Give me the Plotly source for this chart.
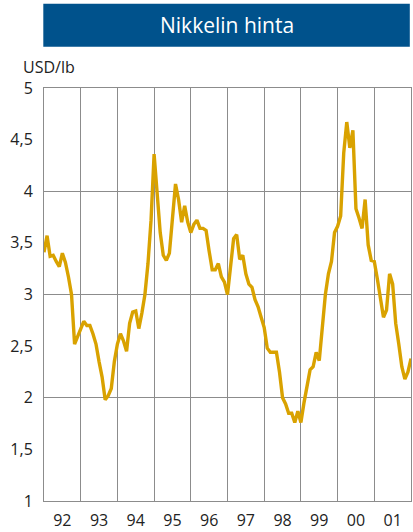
import plotly.graph_objects as go

# Monthly nickel price, USD/lb, Jan 1992 .. Jan 2002 (index 0..120)
prices = [
    3.41, 3.57, 3.37, 3.38, 3.32, 3.27, 3.40, 3.31, 3.17, 3.00, 2.52, 2.60,   # 1992
    2.68, 2.74, 2.70, 2.70, 2.62, 2.52, 2.35, 2.20, 1.98, 2.02, 2.09, 2.35,   # 1993
    2.52, 2.62, 2.55, 2.45, 2.72, 2.83, 2.84, 2.67, 2.82, 3.00, 3.30, 3.72,   # 1994
    4.36, 4.00, 3.60, 3.38, 3.33, 3.40, 3.78, 4.07, 3.92, 3.70, 3.86, 3.70,   # 1995
    3.60, 3.68, 3.72, 3.64, 3.64, 3.62, 3.42, 3.24, 3.24, 3.30, 3.17, 3.12,   # 1996
    3.00, 3.30, 3.54, 3.58, 3.34, 3.38, 3.20, 3.10, 3.07, 2.95, 2.88, 2.78,   # 1997
    2.68, 2.48, 2.44, 2.44, 2.44, 2.25, 2.00, 1.94, 1.85, 1.85, 1.76, 1.87,   # 1998
    1.76, 1.95, 2.12, 2.27, 2.30, 2.44, 2.36, 2.65, 3.00, 3.20, 3.32, 3.60,   # 1999
    3.66, 3.76, 4.37, 4.67, 4.42, 4.59, 3.83, 3.74, 3.64, 3.92, 3.48, 3.33,   # 2000
    3.32, 3.15, 2.97, 2.78, 2.85, 3.20, 3.10, 2.72, 2.52, 2.30, 2.18, 2.25,   # 2001
    2.38,
]
x_years = [1992 + i / 12 for i in range(len(prices))]

year_labels = ["92", "93", "94", "95", "96", "97", "98", "99", "00", "01"]
year_label_pos = [1992.5 + i for i in range(len(year_labels))]

y_ticks = [1, 1.5, 2, 2.5, 3, 3.5, 4, 4.5, 5]
y_tick_text = ["1", "1,5", "2", "2,5", "3", "3,5", "4", "4,5", "5"]

title_text = "Nikkelin hinta"
unit_text = "USD/lb"

FONT = "Open Sans, Noto Sans, DejaVu Sans, sans-serif"
GRID = "#8c8c8c"
TXT = "#222222"
W, H = 413, 532
ML, MR, MT, MB = 43.5, 1, 87.5, 26.5

fig = go.Figure()
fig.add_trace(go.Scatter(
    x=x_years, y=prices, mode="lines",
    line=dict(color="#d9a200", width=3.4),
    hoverinfo="skip", showlegend=False,
))

plot_h = H - MT - MB
plot_w = W - ML - MR
def px_to_paper_y(py):
    return (H - MB - py) / plot_h
def px_to_paper_x(px):
    return (px - ML) / plot_w

fig.update_layout(
    width=W, height=H,
    margin=dict(l=ML, r=MR, t=MT, b=MB),
    paper_bgcolor="white", plot_bgcolor="white",
    font=dict(family=FONT, size=16, color=TXT),
    showlegend=False,
    xaxis=dict(
        range=[1992, 2002],
        tickmode="array", tickvals=year_label_pos, ticktext=year_labels,
        showgrid=False, zeroline=False,
        ticks="outside", ticklen=5, tickcolor="rgba(0,0,0,0)",
        tickfont=dict(size=16, color=TXT),
        showline=True, mirror=True, linecolor=GRID, linewidth=1,
        minor=dict(tickmode="linear", tick0=1992, dtick=1,
                   showgrid=True, gridcolor=GRID, gridwidth=1, ticks=""),
        fixedrange=True,
    ),
    yaxis=dict(
        range=[1, 5],
        tickmode="array", tickvals=y_ticks, ticktext=y_tick_text,
        showgrid=False, zeroline=False,
        ticks="outside", ticklen=7, tickcolor="rgba(0,0,0,0)",
        tickfont=dict(size=16, color=TXT),
        showline=True, mirror=True, linecolor=GRID, linewidth=1,
        minor=dict(tickmode="array", tickvals=[2, 3, 4],
                   showgrid=True, gridcolor=GRID, gridwidth=1, ticks=""),
        fixedrange=True,
    ),
    shapes=[
        dict(type="rect", xref="paper", yref="paper",
             x0=px_to_paper_x(42.8), x1=px_to_paper_x(410.8),
             y0=px_to_paper_y(45.7), y1=px_to_paper_y(2.3),
             fillcolor="#00528c", line=dict(width=0), layer="above"),
    ],
)

fig.add_annotation(
    text=title_text, xref="paper", yref="paper",
    x=px_to_paper_x(226.8), y=px_to_paper_y(24),
    xanchor="center", yanchor="middle", showarrow=False,
    font=dict(family=FONT, size=21, color="white"),
)
fig.add_annotation(
    text=unit_text, xref="paper", yref="paper",
    x=px_to_paper_x(20), y=px_to_paper_y(66),
    xanchor="left", yanchor="middle", showarrow=False,
    font=dict(family=FONT, size=16, color=TXT),
)

fig.write_html(
    "out.html",
    config={"displayModeBar": False, "staticPlot": True},
    post_script="document.body.style.margin='0';document.body.style.overflow='hidden';",
)
